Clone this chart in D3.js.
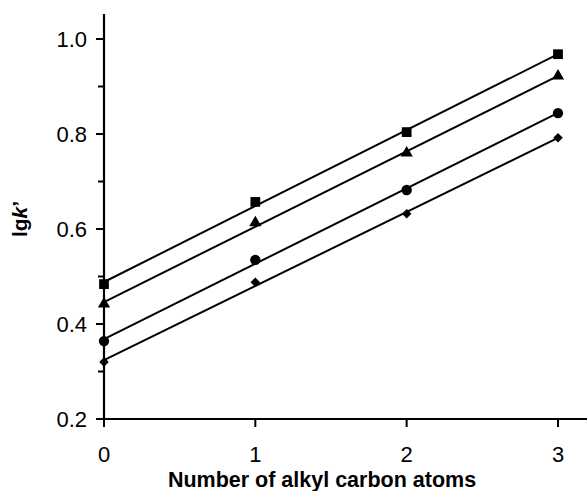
<!DOCTYPE html>
<html>
<head>
<meta charset="utf-8">
<script src="https://cdn.jsdelivr.net/npm/d3@7"></script>
<style>
  body { margin: 0; background: #fff; }
  text { font-family: "Liberation Sans", Arial, sans-serif; fill: #000; }
</style>
</head>
<body>
<div id="chart"></div>
<script>
const carbons = [0, 1, 2, 3]
const squares = [0.484, 0.657, 0.804, 0.968]
const triangles = [0.442, 0.613, 0.760, 0.922]
const circles = [0.364, 0.535, 0.682, 0.844]
const diamonds = [0.320, 0.488, 0.632, 0.792]
const yTicks = [0.2, 0.4, 0.6, 0.8, 1.0]
const yMinor = [0.3, 0.5, 0.7, 0.9]

const series = [
  { name: "square", values: squares, symbol: d3.symbolSquare, size: 95, rot: 0 },
  { name: "triangle", values: triangles, symbol: d3.symbolTriangle, size: 65, rot: 0 },
  { name: "circle", values: circles, symbol: d3.symbolCircle, size: 85, rot: 0 },
  { name: "diamond", values: diamonds, symbol: d3.symbolSquare, size: 45, rot: 45 }
]

const W = 587, H = 491

let x = d3.scaleLinear().domain([0, 3]).range([104, 558])
let y = d3.scaleLinear().domain([0.2, 1.0]).range([419, 39])

let svg = d3.select("#chart")
  .append("svg")
  .attr("width", W)
  .attr("height", H)

// least squares fit for each series
function fit(xs, ys) {
  let mx = d3.mean(xs), my = d3.mean(ys)
  let sxy = d3.sum(xs, (v, i) => (v - mx) * (ys[i] - my))
  let sxx = d3.sum(xs, v => (v - mx) * (v - mx))
  let b = sxy / sxx
  return { a: my - b * mx, b: b }
}

series.forEach(s => {
  let f = fit(carbons, s.values)
  svg.append("line")
    .attr("x1", x(0)).attr("y1", y(f.a))
    .attr("x2", x(3)).attr("y2", y(f.a + 3 * f.b))
    .attr("stroke", "#000")
    .attr("stroke-width", 2)

  svg.selectAll(".pt-" + s.name)
    .data(s.values)
    .enter()
    .append("path")
    .attr("class", "pt-" + s.name)
    .attr("d", d3.symbol().type(s.symbol).size(s.size))
    .attr("transform", (d, i) => "translate(" + x(carbons[i]) + "," + y(d) + ") rotate(" + s.rot + ")")
    .attr("fill", "#000")
})

// y axis
svg.append("line")
  .attr("x1", 104).attr("x2", 104)
  .attr("y1", 14).attr("y2", 420)
  .attr("stroke", "#000").attr("stroke-width", 2.2)

svg.selectAll(".ytick")
  .data(yTicks)
  .enter()
  .append("line")
  .attr("x1", 96).attr("x2", 104)
  .attr("y1", d => y(d)).attr("y2", d => y(d))
  .attr("stroke", "#000").attr("stroke-width", 2)

svg.selectAll(".yminor")
  .data(yMinor)
  .enter()
  .append("line")
  .attr("x1", 98).attr("x2", 104)
  .attr("y1", d => y(d)).attr("y2", d => y(d))
  .attr("stroke", "#000").attr("stroke-width", 2)

svg.selectAll(".ylabel")
  .data(yTicks)
  .enter()
  .append("text")
  .attr("x", 87)
  .attr("y", d => y(d) + 8)
  .attr("text-anchor", "end")
  .style("font-size", "22px")
  .text(d => d.toFixed(1))

// x axis
svg.append("line")
  .attr("x1", 103).attr("x2", W)
  .attr("y1", 419).attr("y2", 419)
  .attr("stroke", "#000").attr("stroke-width", 2.2)

svg.selectAll(".xtick")
  .data(carbons)
  .enter()
  .append("line")
  .attr("x1", d => x(d)).attr("x2", d => x(d))
  .attr("y1", 419).attr("y2", 427)
  .attr("stroke", "#000").attr("stroke-width", 2)

svg.selectAll(".xlabel")
  .data(carbons)
  .enter()
  .append("text")
  .attr("x", d => x(d))
  .attr("y", 462)
  .attr("text-anchor", "middle")
  .style("font-size", "22px")
  .text(d => d)

svg.append("text")
  .attr("x", 322)
  .attr("y", 487)
  .attr("text-anchor", "middle")
  .style("font-size", "21.5px")
  .style("font-weight", "bold")
  .text("Number of alkyl carbon atoms")

let yl = svg.append("text")
  .attr("transform", "translate(27,219) rotate(-90)")
  .attr("text-anchor", "middle")
  .style("font-size", "21px")
  .style("font-weight", "bold")
yl.append("tspan").text("lg")
yl.append("tspan").style("font-style", "italic").text("k")
yl.append("tspan").text("\u2019")
</script>
</body>
</html>
